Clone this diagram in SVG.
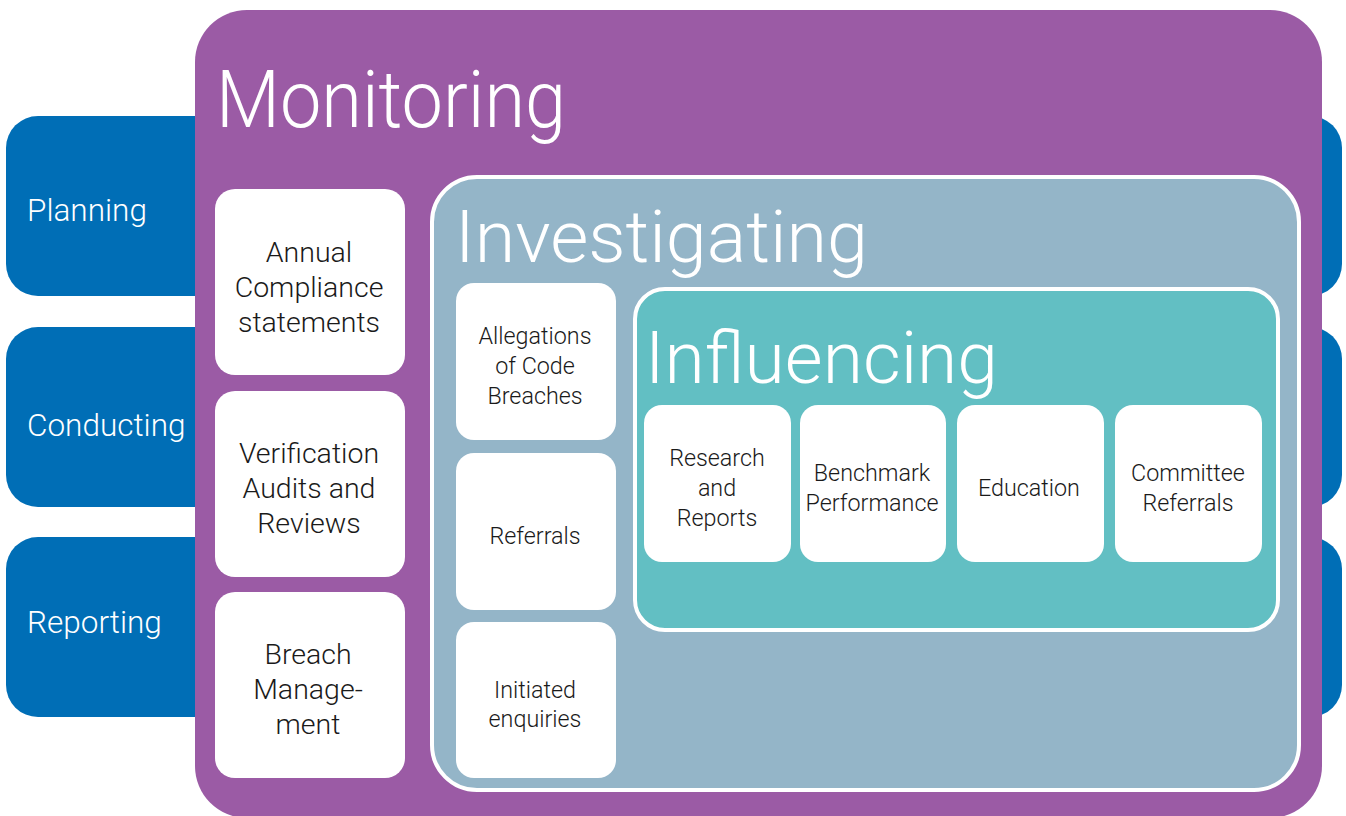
<svg xmlns="http://www.w3.org/2000/svg" width="1346" height="816" viewBox="0 0 1346 816">
  <style>
    .tab { fill: #006EB6; }
    .card { fill: #FFFFFF; }
    .title { font-family: Roboto, "Liberation Sans", sans-serif; font-weight: 300; fill: #FFFFFF; }
    .tabtext { font-family: Roboto, "Liberation Sans", sans-serif; font-weight: 300; font-size: 31.5px; fill: #FFFFFF; }
    .lbl { font-family: Roboto, "Liberation Sans", sans-serif; font-weight: 300; fill: #1A1A1A; text-anchor: middle; }
    .l26 { font-size: 28.5px; }
    .l22 { font-size: 23.3px; }
  </style>
  <rect width="1346" height="816" fill="#FFFFFF"/>

  <!-- stage tabs behind the monitoring panel -->
  <g id="tab-planning">
    <rect class="tab" x="6" y="116" width="1336" height="180" rx="32"/>
    <text class="tabtext" x="27" y="221">Planning</text>
  </g>
  <g id="tab-conducting">
    <rect class="tab" x="6" y="327" width="1336" height="180" rx="32"/>
    <text class="tabtext" x="27" y="436">Conducting</text>
  </g>
  <g id="tab-reporting">
    <rect class="tab" x="6" y="537" width="1336" height="180" rx="32"/>
    <text class="tabtext" x="27" y="633">Reporting</text>
  </g>

  <!-- Monitoring panel -->
  <g id="monitoring">
    <rect x="195" y="10" width="1127" height="808" rx="52" fill="#9B5BA5"/>
    <text class="title" x="216" y="127" font-size="80" textLength="350" lengthAdjust="spacingAndGlyphs">Monitoring</text>
  </g>

  <g id="annual-compliance">
    <rect class="card" x="215" y="189" width="190" height="186" rx="20"/>
    <text class="lbl l26"><tspan x="309" y="262">Annual</tspan><tspan x="309" y="297">Compliance</tspan><tspan x="309" y="332">statements</tspan></text>
  </g>
  <g id="verification-audits">
    <rect class="card" x="215" y="391" width="190" height="186" rx="20"/>
    <text class="lbl l26"><tspan x="309" y="463">Verification</tspan><tspan x="309" y="498">Audits and</tspan><tspan x="309" y="533">Reviews</tspan></text>
  </g>
  <g id="breach-management">
    <rect class="card" x="215" y="592" width="190" height="186" rx="20"/>
    <text class="lbl l26"><tspan x="308" y="664">Breach</tspan><tspan x="308" y="699">Manage-</tspan><tspan x="308" y="734">ment</tspan></text>
  </g>

  <!-- Investigating panel -->
  <g id="investigating">
    <rect x="432" y="177" width="867" height="613" rx="45" fill="#94B5C8" stroke="#FFFFFF" stroke-width="4"/>
    <text class="title" x="455" y="262" font-size="72" textLength="413" lengthAdjust="spacingAndGlyphs">Investigating</text>
  </g>

  <g id="allegations">
    <rect class="card" x="456" y="283" width="160" height="157" rx="18"/>
    <text class="lbl l22"><tspan x="535" y="344">Allegations</tspan><tspan x="535" y="374">of Code</tspan><tspan x="535" y="404">Breaches</tspan></text>
  </g>
  <g id="referrals">
    <rect class="card" x="456" y="453" width="160" height="157" rx="18"/>
    <text class="lbl l22" x="535" y="544">Referrals</text>
  </g>
  <g id="initiated-enquiries">
    <rect class="card" x="456" y="622" width="160" height="156" rx="18"/>
    <text class="lbl l22"><tspan x="535" y="698">Initiated</tspan><tspan x="535" y="727">enquiries</tspan></text>
  </g>

  <!-- Influencing panel -->
  <g id="influencing">
    <rect x="635" y="289" width="643" height="341" rx="30" fill="#62BFC3" stroke="#FFFFFF" stroke-width="4"/>
    <text class="title" x="645" y="383" font-size="72" textLength="353" lengthAdjust="spacingAndGlyphs">Influencing</text>
  </g>

  <g id="research-reports">
    <rect class="card" x="644" y="405" width="147" height="157" rx="18"/>
    <text class="lbl l22"><tspan x="717" y="466">Research</tspan><tspan x="717" y="496">and</tspan><tspan x="717" y="526">Reports</tspan></text>
  </g>
  <g id="benchmark-performance">
    <rect class="card" x="800" y="405" width="146" height="157" rx="18"/>
    <text class="lbl l22"><tspan x="872" y="481">Benchmark</tspan><tspan x="872" y="511">Performance</tspan></text>
  </g>
  <g id="education">
    <rect class="card" x="957" y="405" width="147" height="157" rx="18"/>
    <text class="lbl l22" x="1029" y="496">Education</text>
  </g>
  <g id="committee-referrals">
    <rect class="card" x="1115" y="405" width="147" height="157" rx="18"/>
    <text class="lbl l22"><tspan x="1188" y="481">Committee</tspan><tspan x="1188" y="511">Referrals</tspan></text>
  </g>

  <g id="connectors"/>
</svg>
